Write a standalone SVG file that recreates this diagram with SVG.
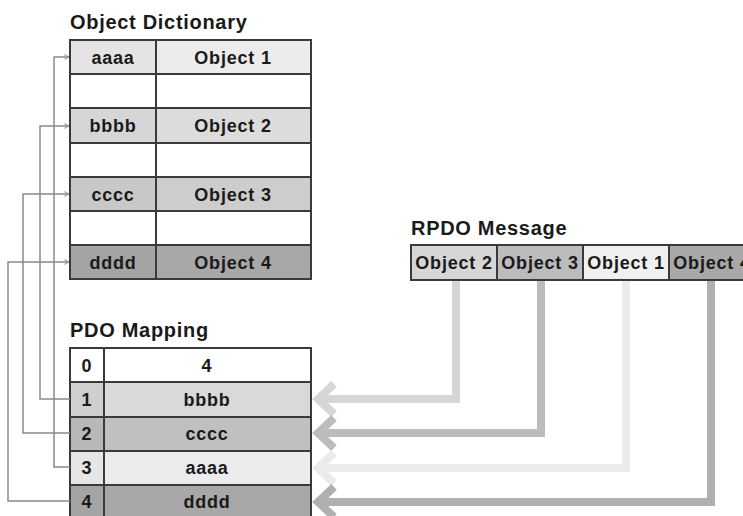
<svg xmlns="http://www.w3.org/2000/svg" width="743" height="516" viewBox="0 0 743 516">
<defs>
<style>
.t{font-family:"Liberation Sans",Arial,sans-serif;font-weight:bold;fill:#1a1a1a}
.title{font-size:20px;letter-spacing:0.7px}
.cell{font-size:18px;letter-spacing:0.8px;text-anchor:middle}
.bx{stroke:#3a3a3a;stroke-width:2}
.thin{fill:none;stroke:#8a8a8a;stroke-width:1.5}
.fat{fill:none;stroke-width:8}
</style>
<marker id="ah" viewBox="0 0 10 10" refX="9" refY="5" markerWidth="6" markerHeight="6" orient="auto" markerUnits="userSpaceOnUse">
<path d="M1,1 L9,5 L1,9" fill="none" stroke="#8a8a8a" stroke-width="1.5"/>
</marker>
</defs>
<rect width="743" height="516" fill="#ffffff"/>

<g id="object-dictionary">
<text class="t title" x="70" y="29">Object Dictionary</text>
<rect class="bx" x="70" y="40" width="86" height="34" fill="#e4e4e4"/>
<rect class="bx" x="156" y="40" width="155" height="34" fill="#ececec"/>
<rect class="bx" x="70" y="74" width="86" height="34" fill="#ffffff"/>
<rect class="bx" x="156" y="74" width="155" height="34" fill="#ffffff"/>
<rect class="bx" x="70" y="108" width="86" height="35" fill="#d6d6d6"/>
<rect class="bx" x="156" y="108" width="155" height="35" fill="#dcdcdc"/>
<rect class="bx" x="70" y="143" width="86" height="34" fill="#ffffff"/>
<rect class="bx" x="156" y="143" width="155" height="34" fill="#ffffff"/>
<rect class="bx" x="70" y="177" width="86" height="34" fill="#c8c8c8"/>
<rect class="bx" x="156" y="177" width="155" height="34" fill="#cdcdcd"/>
<rect class="bx" x="70" y="211" width="86" height="34" fill="#ffffff"/>
<rect class="bx" x="156" y="211" width="155" height="34" fill="#ffffff"/>
<rect class="bx" x="70" y="245" width="86" height="34" fill="#a4a4a4"/>
<rect class="bx" x="156" y="245" width="155" height="34" fill="#a8a8a8"/>
<text class="t cell" x="113" y="64">aaaa</text>
<text class="t cell" x="233" y="64">Object 1</text>
<text class="t cell" x="113" y="132">bbbb</text>
<text class="t cell" x="233" y="132">Object 2</text>
<text class="t cell" x="113" y="201">cccc</text>
<text class="t cell" x="233" y="201">Object 3</text>
<text class="t cell" x="113" y="269">dddd</text>
<text class="t cell" x="233" y="269">Object 4</text>
</g>

<g id="pdo-mapping">
<text class="t title" x="70" y="337">PDO Mapping</text>
<rect class="bx" x="70" y="348" width="34" height="34" fill="#ffffff"/>
<rect class="bx" x="104" y="348" width="207" height="34" fill="#ffffff"/>
<rect class="bx" x="70" y="382" width="34" height="35" fill="#cfcfcf"/>
<rect class="bx" x="104" y="382" width="207" height="35" fill="#d9d9d9"/>
<rect class="bx" x="70" y="417" width="34" height="34" fill="#b8b8b8"/>
<rect class="bx" x="104" y="417" width="207" height="34" fill="#c0c0c0"/>
<rect class="bx" x="70" y="451" width="34" height="34" fill="#e6e6e6"/>
<rect class="bx" x="104" y="451" width="207" height="34" fill="#ebebeb"/>
<rect class="bx" x="70" y="485" width="34" height="34" fill="#a4a4a4"/>
<rect class="bx" x="104" y="485" width="207" height="34" fill="#a8a8a8"/>
<text class="t cell" x="87" y="372">0</text>
<text class="t cell" x="207" y="372">4</text>
<text class="t cell" x="87" y="406">1</text>
<text class="t cell" x="207" y="406">bbbb</text>
<text class="t cell" x="87" y="440">2</text>
<text class="t cell" x="207" y="440">cccc</text>
<text class="t cell" x="87" y="474">3</text>
<text class="t cell" x="207" y="474">aaaa</text>
<text class="t cell" x="87" y="508">4</text>
<text class="t cell" x="207" y="508">dddd</text>
</g>

<g id="rpdo-message">
<text class="t title" x="411" y="235">RPDO Message</text>
<rect class="bx" x="411" y="245" width="86" height="35" fill="#d6d6d6"/>
<rect class="bx" x="497" y="245" width="86" height="35" fill="#bcbcbc"/>
<rect class="bx" x="583" y="245" width="86" height="35" fill="#f0f0f0"/>
<rect class="bx" x="669" y="245" width="86" height="35" fill="#a8a8a8"/>
<text class="t cell" x="454" y="269">Object 2</text>
<text class="t cell" x="540" y="269">Object 3</text>
<text class="t cell" x="626" y="269">Object 1</text>
<text class="t cell" x="712" y="269">Object 4</text>
</g>

<g id="connectors">
<polyline class="thin" points="70,399 40,399 40,126 69,126" marker-end="url(#ah)"/>
<polyline class="thin" points="70,433 23,433 23,194 69,194" marker-end="url(#ah)"/>
<polyline class="thin" points="70,467 54,467 54,57 69,57" marker-end="url(#ah)"/>
<polyline class="thin" points="70,501 8,501 8,262 69,262" marker-end="url(#ah)"/>

<polyline class="fat" stroke="#d6d6d6" points="456,281 456,399 320,399"/>
<polyline class="fat" stroke="#d6d6d6" points="334,384 318,399 334,414"/>
<polyline class="fat" stroke="#bcbcbc" points="541,281 541,433 320,433"/>
<polyline class="fat" stroke="#bcbcbc" points="334,418 318,433 334,448"/>
<polyline class="fat" stroke="#ebebeb" points="626,281 626,468 320,468"/>
<polyline class="fat" stroke="#ebebeb" points="334,453 318,468 334,483"/>
<polyline class="fat" stroke="#b0b0b0" points="711,281 711,502 320,502"/>
<polyline class="fat" stroke="#b0b0b0" points="334,487 318,502 334,517"/>
</g>
</svg>
